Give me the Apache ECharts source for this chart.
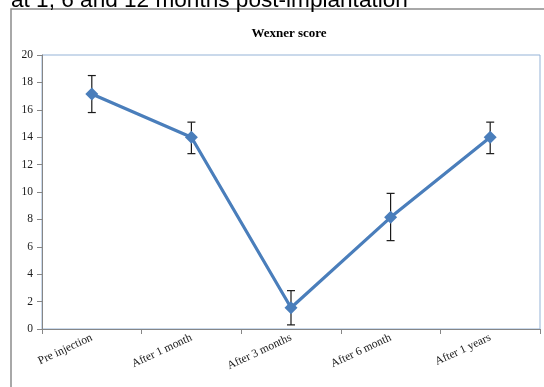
<!DOCTYPE html>
<html>
<head>
<meta charset="utf-8">
<script src="https://cdn.jsdelivr.net/npm/echarts@6/dist/echarts.min.js"></script>
<style>html,body{margin:0;padding:0;background:#fff;}#c{width:544px;height:387px;}</style>
</head>
<body>
<div id="c"></div>
<script>
var categories = ['Pre injection', 'After 1 month', 'After 3 months', 'After 6 month', 'After 1 years'];
var scores = [17.15, 14.0, 1.55, 8.15, 14.0];
var errUpper = [18.5, 15.1, 2.8, 9.9, 15.1];
var errLower = [15.8, 12.8, 0.3, 6.45, 12.8];
var yTicks = [0, 2, 4, 6, 8, 10, 12, 14, 16, 18, 20];

var errData = categories.map(function (c, i) { return [i, errLower[i], errUpper[i]]; });

var chart = echarts.init(document.getElementById('c'), null, { renderer: 'canvas' });
var serif = '"Liberation Serif", "DejaVu Serif", serif';
chart.setOption({
  animation: false,
  backgroundColor: '#fff',
  title: {
    text: 'Wexner score',
    left: 284, top: 22, textAlign: 'center',
    textStyle: { fontFamily: serif, fontSize: 13, fontWeight: 'bold', color: '#000' }
  },
  graphic: [
    { type: 'rect', shape: { x: 11, y: 9, width: 620, height: 420 },
      style: { fill: 'none', stroke: '#8c8c8c', lineWidth: 1.5 }, silent: true, z: 0 },
    { type: 'text', x: 11, y: 12,
      style: { text: 'at 1, 6 and 12 months post-implantation', font: '22.6px "Liberation Sans", Arial, sans-serif',
        fill: '#000', verticalAlign: 'bottom', align: 'left' }, z: 10 }
  ],
  grid: { left: 42, right: 4, top: 55, bottom: 58, show: true, borderColor: '#95B3D7', borderWidth: 1, backgroundColor: 'transparent' },
  xAxis: {
    type: 'category', data: categories, boundaryGap: true,
    axisLine: { lineStyle: { color: '#868686', width: 1 } },
    axisTick: { show: true, alignWithLabel: false, length: 5, lineStyle: { color: '#868686' } },
    axisLabel: { rotate: 25, fontFamily: serif, fontSize: 11.5, color: '#1a1a1a', margin: 8, interval: 0 },
    splitLine: { show: false }
  },
  yAxis: {
    type: 'value', min: yTicks[0], max: yTicks[yTicks.length - 1], interval: 2,
    axisLine: { show: true, lineStyle: { color: '#868686', width: 1 } },
    axisTick: { show: true, length: 5, lineStyle: { color: '#868686' } },
    axisLabel: { fontFamily: serif, fontSize: 11.5, color: '#1a1a1a', margin: 9 },
    splitLine: { show: false }
  },
  series: [
    {
      type: 'custom', name: 'error', data: errData, z: 3,
      renderItem: function (params, api) {
        var i = api.value(0);
        var lo = api.coord([i, api.value(1)]);
        var hi = api.coord([i, api.value(2)]);
        var hw = 4;
        var st = { stroke: '#1a1a1a', lineWidth: 1.2, fill: 'none' };
        return { type: 'group', children: [
          { type: 'line', shape: { x1: hi[0], y1: hi[1], x2: lo[0], y2: lo[1] }, style: st },
          { type: 'line', shape: { x1: hi[0] - hw, y1: hi[1], x2: hi[0] + hw, y2: hi[1] }, style: st },
          { type: 'line', shape: { x1: lo[0] - hw, y1: lo[1], x2: lo[0] + hw, y2: lo[1] }, style: st }
        ] };
      }
    },
    {
      type: 'line', name: 'Wexner score', data: scores, z: 4,
      symbol: 'diamond', symbolSize: 13,
      lineStyle: { color: '#4A7EBB', width: 3.2 },
      itemStyle: { color: '#4A7EBB' }
    }
  ]
});
</script>
</body>
</html>
